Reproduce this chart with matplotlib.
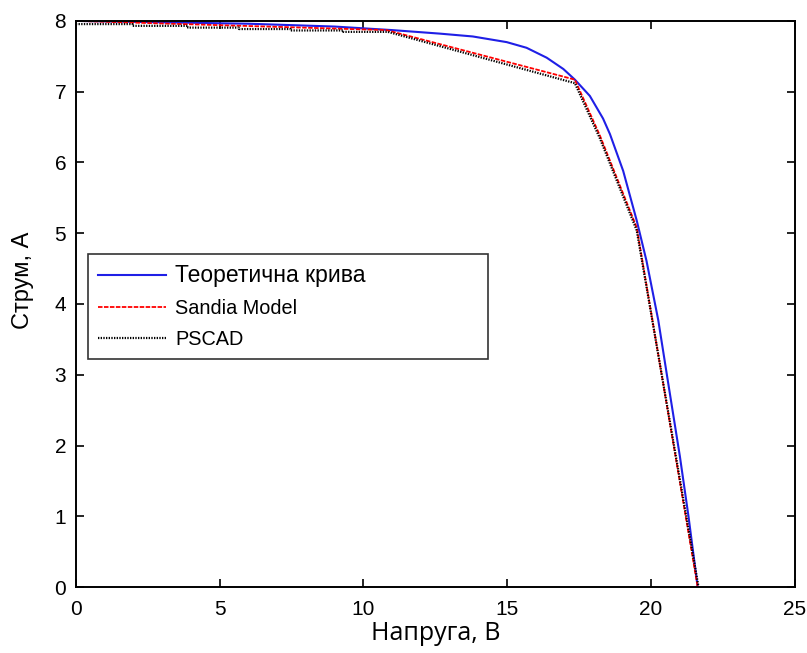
import matplotlib
matplotlib.use("Agg")
import matplotlib.pyplot as plt

# ---------------- Data ----------------

# theoretical I-V curve
v_theory = [0.0, 3.0, 6.0, 9.0, 11.0, 12.66, 13.8, 14.98, 15.67, 16.37, 16.95,
            17.35, 17.87, 18.33, 18.57, 19.03, 19.5, 19.84, 20.25, 20.58,
            21.0, 21.3, 21.62]
i_theory = [8.0, 7.98, 7.96, 7.92, 7.87, 7.82, 7.78, 7.7, 7.62, 7.48, 7.32,
            7.17, 6.94, 6.62, 6.4, 5.88, 5.18, 4.61, 3.77, 2.92,
            1.85, 1.0, 0.0]

# Sandia model (piecewise linear)
v_sandia = [0.0, 10.8, 17.35, 18.22, 19.5, 21.62]
i_sandia = [8.0, 7.87, 7.17, 6.38, 5.08, 0.0]

# PSCAD (staircase at the start)
v_pscad = [0.0, 1.97, 1.97, 3.9, 3.9, 5.67, 5.67, 7.47, 7.47, 9.3, 9.3, 10.85,
           17.35, 18.22, 19.5, 21.65]
i_pscad = [7.955, 7.955, 7.93, 7.93, 7.905, 7.905, 7.885, 7.885, 7.865, 7.865,
           7.845, 7.845, 7.12, 6.34, 5.04, 0.0]

labels = ["Теоретична крива", "Sandia Model", "PSCAD"]

# ---------------- Plot ----------------

fig = plt.figure(figsize=(8.07, 6.53), dpi=100)
ax = fig.add_axes([0.094, 0.101, 0.891, 0.867])

ax.plot(v_theory, i_theory, color="#1f1fe6", lw=1.5, label=labels[0])
ax.plot(v_sandia, i_sandia, color="red", lw=1.3, ls="--", dashes=(2.5, 0.8), label=labels[1])
ax.plot(v_pscad, i_pscad, color="black", lw=1.6, ls=":", dashes=(0.6, 0.6), label=labels[2])

ax.set_xlim(0, 25)
ax.set_ylim(0, 8)
ax.set_xticks(range(0, 26, 5))
ax.set_yticks(range(0, 9))

tick_font = "Liberation Sans"
label_font = "Open Sans"
ax.tick_params(direction="in", top=True, right=True, length=6, width=1.2,
               labelsize=15, pad=7)
ax.tick_params(axis="x", pad=9)
for t in ax.get_xticklabels() + ax.get_yticklabels():
    t.set_fontfamily(tick_font)
for s in ax.spines.values():
    s.set_linewidth(1.4)

ax.set_xlabel("Напруга, В", fontsize=18, family=label_font, labelpad=2)
ax.set_ylabel("Струм, А", fontsize=17, family=tick_font)
ax.yaxis.set_label_coords(-0.058, 0.541)

leg = ax.legend(loc="upper left", bbox_to_anchor=(0.017, 0.0, 0.556, 0.589),
                mode="expand", frameon=True, fancybox=False, edgecolor="black",
                handlelength=3.4, handletextpad=0.5, labelspacing=0.62,
                borderaxespad=0, borderpad=0.5,
                prop={"family": tick_font, "size": 14.3})
leg.get_frame().set_linewidth(1.2)
leg.get_texts()[0].set_fontsize(16.5)

fig.savefig("out.png", dpi=100)
